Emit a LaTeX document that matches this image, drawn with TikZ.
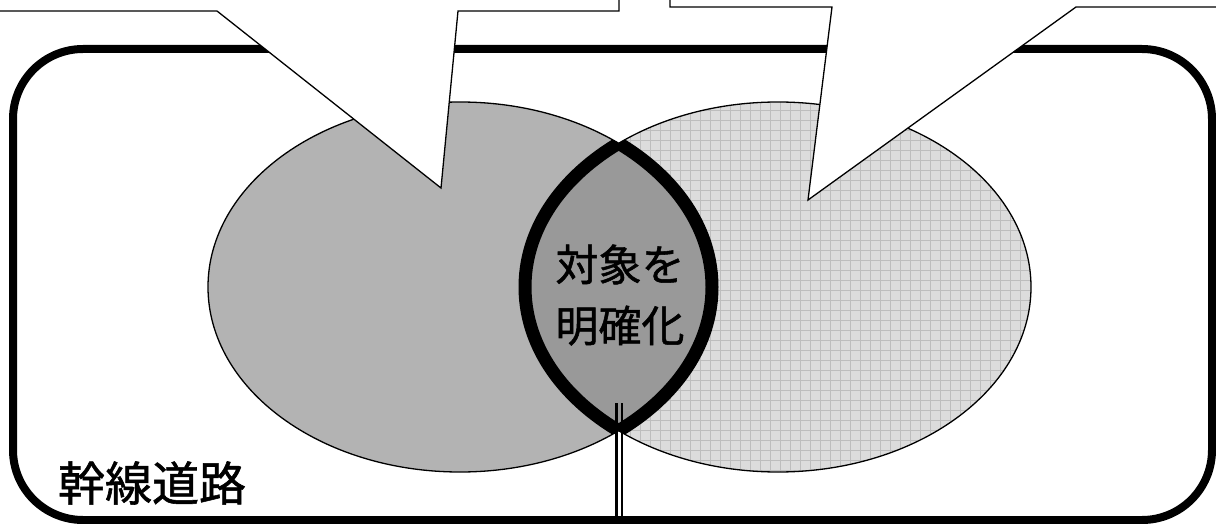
\documentclass[tikz,border=0pt]{standalone}
\usepackage{fontspec}
\newfontfamily\cjk[FakeBold=1.2]{Noto Sans CJK JP}
\definecolor{ellLfill}{HTML}{B3B3B3}
\definecolor{ellRfill}{HTML}{DCDCDC}
\definecolor{gridcol}{HTML}{BDBDBD}
\definecolor{lensfill}{HTML}{999999}
\begin{document}
\begin{tikzpicture}[x=1pt,y=-1pt,
  roadbox/.style={line width=8pt, rounded corners=70pt},
  ellline/.style={line width=1.3pt},
  lensborder/.style={line width=13pt},
  callout/.style={draw=black, fill=white, line width=1.3pt, line join=miter},
  bigtext/.style={inner sep=0pt, align=center, font=\cjk\fontsize{43}{61}\selectfont},
  roadtext/.style={inner sep=0pt, font=\cjk\fontsize{47}{56}\selectfont},
  thinline/.style={line width=2.2pt}]
\useasboundingbox (0,0) rectangle (1216,524);
% road box
\draw[roadbox] (13,49) rectangle (1212,520);
% left ellipse
\fill[ellLfill] (460,287) ellipse [x radius=252pt, y radius=185pt];
\draw[ellline] (460,287) ellipse [x radius=252pt, y radius=185pt];
% right ellipse with grid
\begin{scope}
  \clip (778,287) ellipse [x radius=253pt, y radius=185pt];
  \fill[ellRfill] (520,100) rectangle (1035,475);
  \draw[gridcol, line width=0.7pt] (520,100) grid[step=10pt] (1035,475);
\end{scope}
\draw[ellline] (778,287) ellipse [x radius=253pt, y radius=185pt];
% lens
\begin{scope}
  \clip (460,287) ellipse [x radius=252pt, y radius=185pt];
  \fill[lensfill] (778,287) ellipse [x radius=253pt, y radius=185pt];
  \draw[lensborder] (778,287) ellipse [x radius=253pt, y radius=185pt];
\end{scope}
\begin{scope}
  \clip (778,287) ellipse [x radius=253pt, y radius=185pt];
  \draw[lensborder] (460,287) ellipse [x radius=252pt, y radius=185pt];
\end{scope}
% double connector
\coordinate (lensbot) at (619,403);
\coordinate (roadbot) at (619,520);
\draw[thinline] ([xshift=-2.6pt]lensbot) -- ([xshift=-2.6pt]roadbot);
\draw[thinline] ([xshift=2.6pt]lensbot) -- ([xshift=2.6pt]roadbot);
% callouts
\draw[callout] (-5,-5) -- (619,-5) -- (619,11) -- (458,11) -- (441,188) -- (217,11) -- (-5,11) -- cycle;
\draw[callout] (670,-5) -- (670,7) -- (832,7) -- (808,200) -- (1076,7) -- (1225,7) -- (1225,-5) -- cycle;
% texts
\node[bigtext] (lens) at (620,295) {対象を\\明確化};
\node[roadtext] (road) at (152,483) {幹線道路};
\end{tikzpicture}
\end{document}
